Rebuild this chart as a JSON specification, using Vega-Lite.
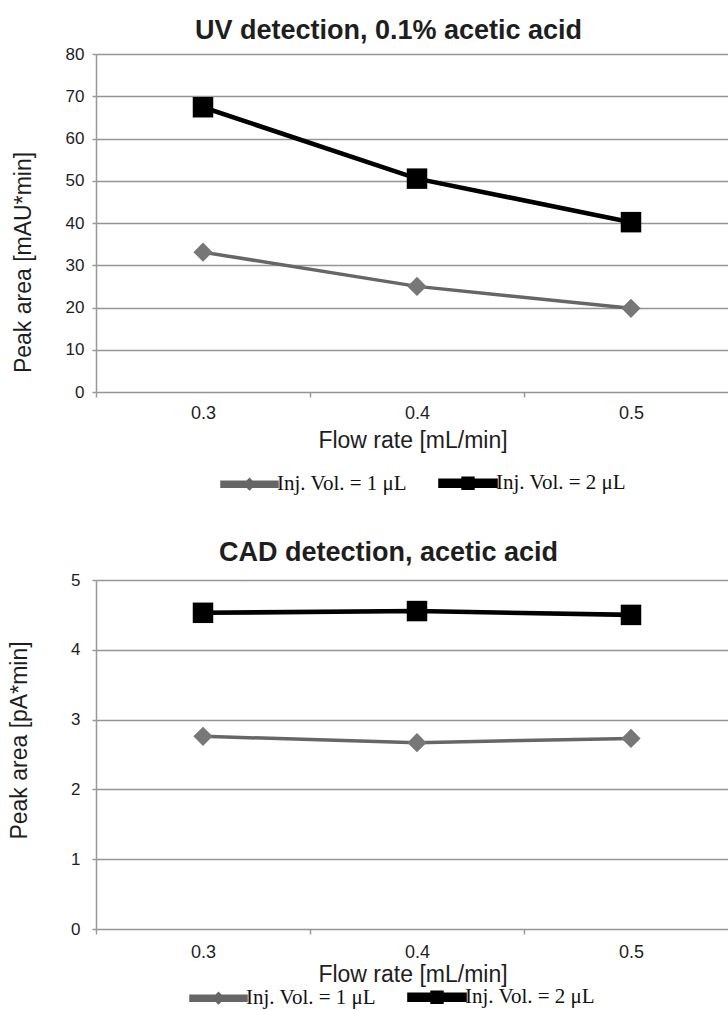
{
  "$schema": "https://vega.github.io/schema/vega-lite/v6.json",
  "padding": {"left": 8, "top": 17, "right": 0, "bottom": 12},
  "background": "white",
  "config": {
    "view": {"stroke": null},
    "font": "Liberation Sans",
    "title": {"font": "Liberation Sans", "fontSize": 27, "fontWeight": "bold", "color": "#1e1e1e", "frame": "group", "anchor": "middle", "baseline": "alphabetic"},
    "axis": {"labelFont": "Liberation Sans", "titleFont": "Liberation Sans", "labelColor": "#1e1e1e", "titleColor": "#1e1e1e", "titleFontWeight": "normal", "domainColor": "#999999", "tickColor": "#999999", "gridColor": "#959595", "domainWidth": 1.5, "tickWidth": 1.5, "gridWidth": 1.6, "gridOpacity": 1}
  },
  "datasets": {
    "uv": [
      {"flow": 0.3, "series": "Inj. Vol. = 1 μL", "area": 33.1},
      {"flow": 0.4, "series": "Inj. Vol. = 1 μL", "area": 25.0},
      {"flow": 0.5, "series": "Inj. Vol. = 1 μL", "area": 19.8},
      {"flow": 0.3, "series": "Inj. Vol. = 2 μL", "area": 67.4},
      {"flow": 0.4, "series": "Inj. Vol. = 2 μL", "area": 50.5},
      {"flow": 0.5, "series": "Inj. Vol. = 2 μL", "area": 40.2}
    ],
    "cad": [
      {"flow": 0.3, "series": "Inj. Vol. = 1 μL", "area": 2.76},
      {"flow": 0.4, "series": "Inj. Vol. = 1 μL", "area": 2.67},
      {"flow": 0.5, "series": "Inj. Vol. = 1 μL", "area": 2.73},
      {"flow": 0.3, "series": "Inj. Vol. = 2 μL", "area": 4.53},
      {"flow": 0.4, "series": "Inj. Vol. = 2 μL", "area": 4.555},
      {"flow": 0.5, "series": "Inj. Vol. = 2 μL", "area": 4.50}
    ]
  },
  "spacing": 42,
  "resolve": {"scale": {"color": "independent", "fill": "independent", "shape": "independent", "strokeWidth": "independent"}, "legend": {"color": "independent"}},
  "vconcat": [
    {
      "title": {"text": "UV detection, 0.1% acetic acid", "offset": 0, "dx": -24},
      "width": 633,
      "height": 338,
      "data": {"name": "uv"},
      "resolve": {"axis": {"x": "independent"}},
      "layer": [
        {
          "mark": {"type": "line", "clip": true},
          "encoding": {
            "x": {"field": "flow", "type": "quantitative", "scale": {"domain": [0.25, 0.5458], "nice": false, "zero": false},
              "axis": {"orient": "bottom", "values": [0.3, 0.4, 0.5], "format": ".1f", "ticks": false, "tickSize": 0, "grid": false, "domain": false, "labelFontSize": 18, "labelPadding": 12, "title": "Flow rate [mL/min]", "titleFontSize": 23, "titlePadding": 7}},
            "y": {"field": "area", "type": "quantitative", "scale": {"domain": [0, 80], "nice": false},
              "axis": {"values": [0, 10, 20, 30, 40, 50, 60, 70, 80], "format": "d", "grid": true, "tickSize": 4, "labelFontSize": 17, "labelPadding": 8, "title": "Peak area [mAU*min]", "titleFontSize": 23, "titlePadding": 30, "titleY": 208}},
            "color": {"field": "series", "type": "nominal", "scale": {"range": ["#666666", "#000000"]},
              "legend": {"orient": "none", "legendX": 124, "legendY": 399, "direction": "horizontal", "title": null, "symbolSize": 3025, "symbolType": "M-1,-0.075H1V0.075H-1Z", "labelFont": "Liberation Serif", "labelFontSize": 21, "labelColor": "#111111", "labelOffset": -2, "columnPadding": 23,
                "encode": {"symbols": {"update": {
                  "shape": {"signal": "datum.index === 0 ? 'M-1,-0.075H1V0.075H-1Z M0,-0.15L0.15,0L0,0.15L-0.15,0Z' : 'M-1,-0.09H1V0.09H-1Z M-0.16,-0.16H0.16V0.16H-0.16Z'"},
                  "fill": {"signal": "datum.index === 0 ? '#666666' : '#000000'"},
                  "fillOpacity": {"value": 1},
                  "strokeWidth": {"value": 0}
                }}}}},
            "strokeWidth": {"field": "series", "type": "ordinal", "scale": {"range": [3.5, 4.6]}, "legend": null}
          }
        },
        {
          "mark": {"type": "point", "filled": true, "opacity": 1, "strokeWidth": 0},
          "encoding": {
            "x": {"field": "flow", "type": "quantitative",
              "axis": {"orient": "bottom", "values": [0.25, 0.35, 0.45, 0.55], "labels": false, "title": null, "ticks": true, "tickSize": 5, "grid": false, "domain": false}},
            "y": {"field": "area", "type": "quantitative"},
            "shape": {"field": "series", "type": "nominal", "scale": {"range": ["diamond", "square"]}, "legend": null},
            "fill": {"field": "series", "type": "nominal", "scale": {"range": ["#777777", "#000000"]}, "legend": null},
            "size": {"field": "series", "type": "nominal", "scale": {"range": [370, 420]}, "legend": null}
          }
        }
      ]
    },
    {
      "title": {"text": "CAD detection, acetic acid", "offset": 4, "dx": -24},
      "width": 633,
      "height": 349,
      "data": {"name": "cad"},
      "resolve": {"axis": {"x": "independent"}},
      "layer": [
        {
          "mark": {"type": "line", "clip": true},
          "encoding": {
            "x": {"field": "flow", "type": "quantitative", "scale": {"domain": [0.25, 0.5458], "nice": false, "zero": false},
              "axis": {"orient": "bottom", "values": [0.3, 0.4, 0.5], "format": ".1f", "ticks": false, "tickSize": 0, "grid": false, "domain": false, "labelFontSize": 18, "labelPadding": 14, "title": "Flow rate [mL/min]", "titleFontSize": 23, "titlePadding": 2}},
            "y": {"field": "area", "type": "quantitative", "scale": {"domain": [0, 5], "nice": false},
              "axis": {"values": [0, 1, 2, 3, 4, 5], "format": "d", "grid": true, "tickSize": 4, "labelFontSize": 17, "labelPadding": 12, "title": "Peak area [pA*min]", "titleFontSize": 23, "titlePadding": 39, "titleY": 160}},
            "color": {"field": "series", "type": "nominal", "scale": {"range": ["#666666", "#000000"]},
              "legend": {"orient": "none", "legendX": 93, "legendY": 387, "direction": "horizontal", "title": null, "symbolSize": 3025, "symbolType": "M-1,-0.075H1V0.075H-1Z", "labelFont": "Liberation Serif", "labelFontSize": 21, "labelColor": "#111111", "labelOffset": -2, "columnPadding": 23,
                "encode": {"symbols": {"update": {
                  "shape": {"signal": "datum.index === 0 ? 'M-1,-0.075H1V0.075H-1Z M0,-0.15L0.15,0L0,0.15L-0.15,0Z' : 'M-1,-0.09H1V0.09H-1Z M-0.16,-0.16H0.16V0.16H-0.16Z'"},
                  "fill": {"signal": "datum.index === 0 ? '#666666' : '#000000'"},
                  "fillOpacity": {"value": 1},
                  "strokeWidth": {"value": 0}
                }}}}},
            "strokeWidth": {"field": "series", "type": "ordinal", "scale": {"range": [3.5, 4.6]}, "legend": null}
          }
        },
        {
          "mark": {"type": "point", "filled": true, "opacity": 1, "strokeWidth": 0},
          "encoding": {
            "x": {"field": "flow", "type": "quantitative",
              "axis": {"orient": "bottom", "values": [0.25, 0.35, 0.45, 0.55], "labels": false, "title": null, "ticks": true, "tickSize": 5, "grid": false, "domain": false}},
            "y": {"field": "area", "type": "quantitative"},
            "shape": {"field": "series", "type": "nominal", "scale": {"range": ["diamond", "square"]}, "legend": null},
            "fill": {"field": "series", "type": "nominal", "scale": {"range": ["#777777", "#000000"]}, "legend": null},
            "size": {"field": "series", "type": "nominal", "scale": {"range": [370, 420]}, "legend": null}
          }
        }
      ]
    }
  ]
}
